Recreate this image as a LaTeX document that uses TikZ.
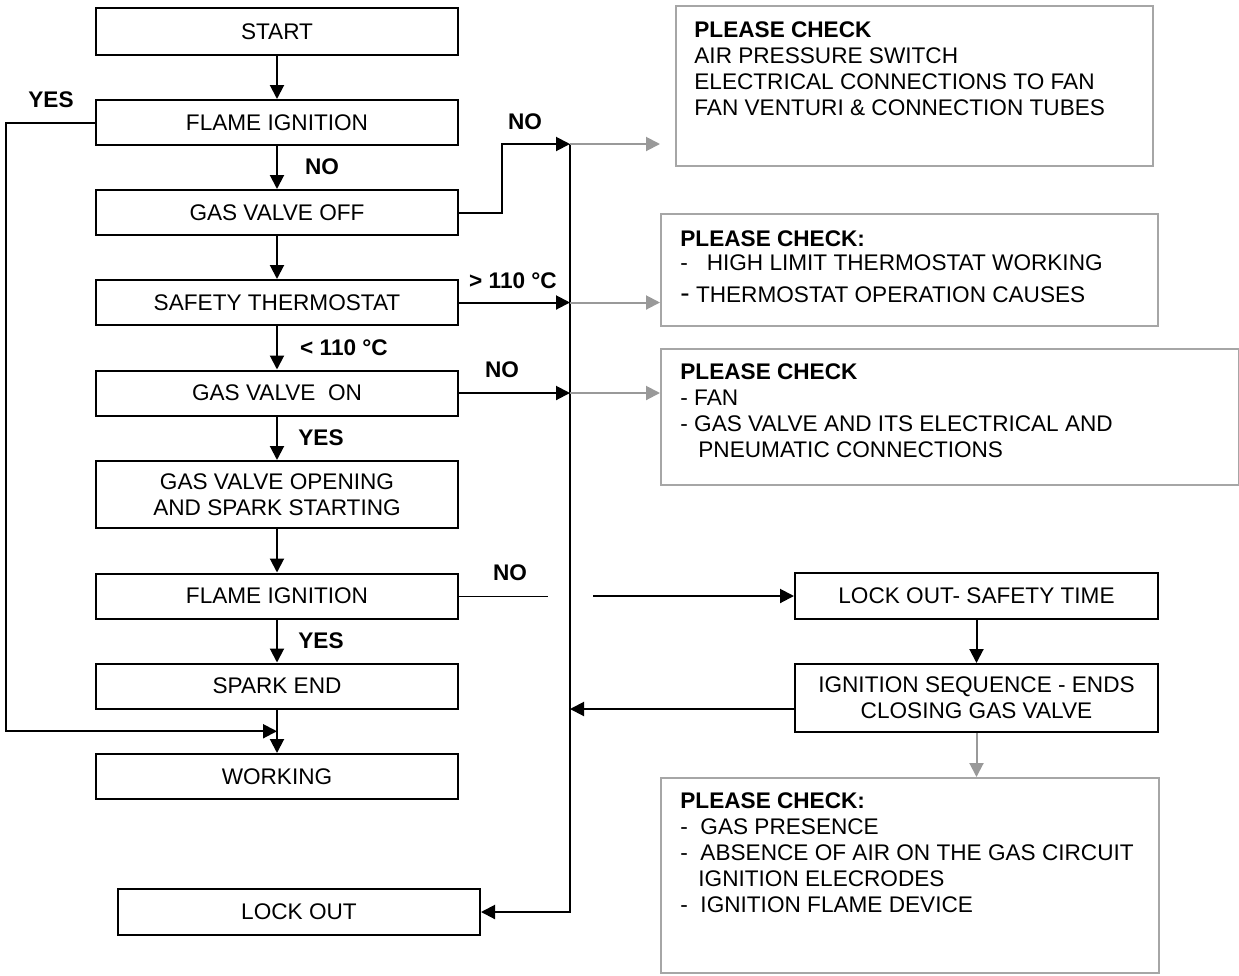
\documentclass[tikz,border=0pt]{standalone}
\usepackage{fontspec}
\setmainfont{Liberation Sans}
\usetikzlibrary{arrows.meta,calc}
\definecolor{boxgray}{HTML}{A6A6A6}
\definecolor{arrgray}{HTML}{999999}
\begin{document}
\begin{tikzpicture}[x=0.5pt,y=-0.5pt,
  every node/.style={font=\fontsize{11.3}{13}\selectfont},
  mbox/.style={draw=black,line width=1pt,minimum width=181pt,minimum height=22.5pt,inner sep=0pt,align=center},
  cbox/.style={draw=boxgray,line width=0.8pt,inner sep=0pt,anchor=north west},
  ctext/.style={anchor=north west,inner sep=0pt,align=left},
  lbl/.style={font=\fontsize{11.3}{13}\selectfont\bfseries,inner sep=0pt},
  arr/.style={line width=1pt,-{Triangle[length=7pt,width=7pt]}},
  garr/.style={draw=arrgray,line width=1pt,-{Triangle[length=7pt,width=7pt]}},
  ln/.style={line width=1pt}]
\useasboundingbox (0,0) rectangle (1239,976);

% main column
\node[mbox,minimum height=23.5pt] (start) at (277,31.5) {START};
\node[mbox] (fi1) at (277,122.5) {FLAME IGNITION};
\node[mbox] (gvoff) at (277,212.5) {GAS VALVE OFF};
\node[mbox] (safe) at (277,302.5) {SAFETY THERMOSTAT};
\node[mbox] (gvon) at (277,393) {GAS VALVE\ \ ON};
\node[mbox,minimum height=33.5pt] (open) at (277,494.5) {GAS VALVE OPENING\\AND SPARK STARTING};
\node[mbox] (fi2) at (277,596) {FLAME IGNITION};
\node[mbox] (spark) at (277,686) {SPARK END};
\node[mbox] (work) at (277,776.5) {WORKING};
\node[mbox,minimum height=23pt] (lock) at (299,912) {LOCK OUT};

% right column
\node[mbox,minimum width=181.5pt,minimum height=23pt] (lockts) at (976.5,596) {LOCK OUT- SAFETY TIME};
\node[mbox,minimum width=181.5pt,minimum height=34pt] (igseq) at (976.5,698) {IGNITION SEQUENCE - ENDS\\CLOSING GAS VALVE};

% check boxes
\node[cbox,minimum width=238.5pt,minimum height=80pt] (c1) at (675,5) {};
\node[cbox,minimum width=248.5pt,minimum height=56pt] (c2) at (660,213) {};
\node[cbox,minimum width=289pt,minimum height=68pt] (c3) at (660,348) {};
\node[cbox,minimum width=249pt,minimum height=97.5pt] (c4) at (660,777) {};

\node[ctext] (t1) at (694,21) {\textbf{PLEASE CHECK}\\AIR PRESSURE SWITCH\\ELECTRICAL CONNECTIONS TO FAN\\FAN VENTURI \& CONNECTION TUBES};
\node[ctext] (t2) at (680,230) {\textbf{PLEASE CHECK:}\\[-1pt]-\ \ \ HIGH LIMIT THERMOSTAT WORKING\\[3pt]{\fontsize{14}{14}\selectfont -} THERMOSTAT OPERATION CAUSES};
\node[ctext] (t3) at (680,363) {\textbf{PLEASE CHECK}\\- FAN\\- GAS VALVE AND ITS ELECTRICAL AND\\\hspace*{9pt}PNEUMATIC CONNECTIONS};
\node[ctext] (t4) at (680,792) {\textbf{PLEASE CHECK:}\\-\ \ GAS PRESENCE\\-\ \ ABSENCE OF AIR ON THE GAS CIRCUIT\\\hspace*{9pt}IGNITION ELECRODES\\-\ \ IGNITION FLAME DEVICE};

% coordinates
\coordinate (vtop) at (570,144);
\coordinate (vbot) at (570,912);
\coordinate (jog) at (502,0);
\coordinate (lx) at (6,0);
\coordinate (mid) at ($(spark.south)!0.5!(work.north)$);
\coordinate (g1) at (548,0);
\coordinate (g2) at (593,0);
\coordinate (r709) at ($(igseq.west)+(0,11)$);

% vertical flow
\draw[arr] (start) -- (fi1);
\draw[arr] (fi1) -- (gvoff);
\draw[arr] (gvoff) -- (safe);
\draw[arr] (safe) -- (gvon);
\draw[arr] (gvon) -- (open);
\draw[arr] (open) -- (fi2);
\draw[arr] (fi2) -- (spark);
\draw[arr] (spark) -- (work);

% yes loop
\draw[arr] (fi1.west) -- (fi1.west -| lx) |- (mid);

% right side collector
\draw[arr] (gvoff.east) -- (gvoff.east -| jog) |- (vtop);
\draw[arr] (vtop) -- (vbot) -- (lock.east);
\draw[arr] (safe.east) -- (safe.east -| vtop);
\draw[arr] (gvon.east) -- (gvon.east -| vtop);
\draw[garr] (vtop) -- (vtop -| c2.west);
\draw[garr] (safe.east -| vtop) -- (safe.east -| c2.west);
\draw[garr] (gvon.east -| vtop) -- (gvon.east -| c3.west);

\draw[line width=0.5pt] (fi2.east) -- (fi2.east -| g1);
\draw[arr] (fi2.east -| g2) -- (lockts.west);
\draw[arr] (lockts) -- (igseq);
\draw[arr] (r709) -- (r709 -| vtop);
\draw[garr] (igseq.south) -- (igseq.south |- c4.north);

% labels
\node[lbl] (yes1) at (51,100) {YES};
\node[lbl] (no1) at (322,167) {NO};
\node[lbl] (no2) at (525,122) {NO};
\node[lbl] (gt) at (513,281) {> 110 °C};
\node[lbl] (lt) at (344,348) {< 110 °C};
\node[lbl] (no3) at (502,370) {NO};
\node[lbl] (yes2) at (321,438) {YES};
\node[lbl] (no4) at (510,573) {NO};
\node[lbl] (yes3) at (321,641) {YES};
\end{tikzpicture}
\end{document}
